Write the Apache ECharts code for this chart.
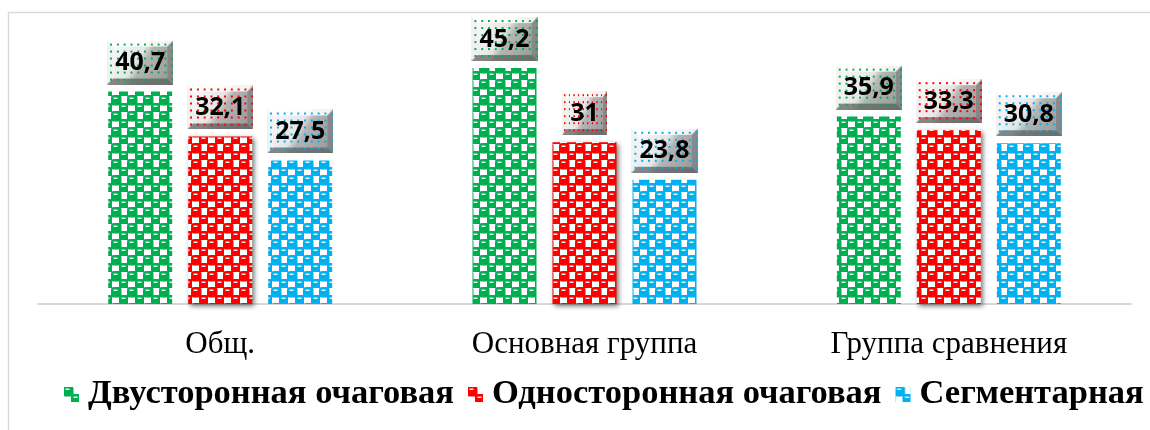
<!DOCTYPE html>
<html>
<head>
<meta charset="utf-8">
<script src="https://cdn.jsdelivr.net/npm/echarts@6/dist/echarts.min.js"></script>
<style>
html, body { margin: 0; padding: 0; background: #fff; }
#chart { width: 1150px; height: 430px; }
</style>
</head>
<body>
<div id="chart"></div>
<script>
var categories = ['Общ.', 'Основная группа', 'Группа сравнения'];
var seriesNames = ['Двусторонная очаговая', 'Односторонная очаговая', 'Сегментарная'];
var bilateral = [40.7, 45.2, 35.9];
var unilateral = [32.1, 31, 33.3];
var segmental = [27.5, 23.8, 30.8];
var colors = ['#00b050', '#ff0000', '#00b0f0'];

// текстура столбцов: шахматка из скруглённых клеток
function checkerTile(color) {
    var c = document.createElement('canvas');
    c.width = 16; c.height = 16;
    var g = c.getContext('2d');
    g.fillStyle = '#fff';
    g.fillRect(0, 0, 16, 16);
    function blob(x, y) {
        var r = 3, s = 10.5;
        g.fillStyle = color;
        g.beginPath();
        g.moveTo(x + r, y);
        g.lineTo(x + s - r, y);
        g.quadraticCurveTo(x + s, y, x + s, y + r);
        g.lineTo(x + s, y + s - r);
        g.quadraticCurveTo(x + s, y + s, x + s - r, y + s);
        g.lineTo(x + r, y + s);
        g.quadraticCurveTo(x, y + s, x, y + s - r);
        g.lineTo(x, y + r);
        g.quadraticCurveTo(x, y, x + r, y);
        g.fill();
        g.fillStyle = 'rgba(255,255,255,0.9)';
        g.fillRect(x + 2.5, y + 2.5, 4, 1.5);
    }
    [[-1, -1], [7, 7], [15, -1], [-1, 15], [15, 15], [-9, -9]].forEach(function (p) {
        blob(p[0], p[1]);
    });
    return c;
}

// фон подписи: серая "фаска" с точками цвета серии
function labelBox(color) {
    var w = 68, h = 44, b = 6;
    var c = document.createElement('canvas');
    c.width = w; c.height = h;
    var g = c.getContext('2d');
    var grd = g.createLinearGradient(0, 0, w, h);
    grd.addColorStop(0, '#ffffff');
    grd.addColorStop(0.45, '#e6e6e6');
    grd.addColorStop(0.55, '#b4b4b4');
    grd.addColorStop(1, '#969696');
    g.fillStyle = grd;
    g.fillRect(0, 0, w, h);
    function quad(pts, fill) {
        g.fillStyle = fill;
        g.beginPath();
        g.moveTo(pts[0][0], pts[0][1]);
        for (var i = 1; i < pts.length; i++) g.lineTo(pts[i][0], pts[i][1]);
        g.closePath();
        g.fill();
    }
    quad([[0, 0], [w, 0], [w - b, b], [b, b]], 'rgba(255,255,255,0.85)');
    quad([[0, 0], [b, b], [b, h - b], [0, h]], 'rgba(240,240,240,0.8)');
    quad([[w, 0], [w, h], [w - b, h - b], [w - b, b]], 'rgba(120,120,120,0.6)');
    quad([[0, h], [b, h - b], [w - b, h - b], [w, h]], 'rgba(90,90,90,0.7)');
    g.fillStyle = color;
    for (var y = 3; y < h; y += 7) {
        for (var x = 3; x < w; x += 7) {
            g.fillRect(x, y, 2, 2);
        }
    }
    return c;
}

function makeSeries(name, data, color, shadow) {
    var itemStyle = { color: { image: checkerTile(color), repeat: 'repeat' } };
    if (shadow) {
        itemStyle.shadowColor = 'rgba(0,0,0,0.55)';
        itemStyle.shadowBlur = 5;
        itemStyle.shadowOffsetX = 2;
        itemStyle.shadowOffsetY = 2;
    }
    return {
        name: name,
        type: 'bar',
        data: data,
        barWidth: 64,
        barGap: '25%',
        itemStyle: itemStyle,
        label: {
            show: true,
            position: 'top',
            distance: 7,
            formatter: function (p) { return String(p.value).replace('.', ','); },
            color: '#000',
            fontFamily: 'Open Sans',
            fontWeight: 'bold',
            fontSize: 25,
            lineHeight: 29,
            padding: [8, 8, 7, 8],
            backgroundColor: { image: labelBox(color) }
        }
    };
}

var myChart = echarts.init(document.getElementById('chart'));
var option = {
    animation: false,
    graphic: [{
        type: 'rect',
        shape: { x: 8.5, y: 12.5, width: 1200, height: 500 },
        style: { fill: 'none', stroke: '#d9d9d9', lineWidth: 1.5 },
        silent: true,
        z: -1
    }],
    legend: {
        top: 372,
        left: 59,
        width: 1120,
        icon: 'rect',
        itemWidth: 15,
        itemHeight: 15,
        itemGap: 14,
        textStyle: {
            fontFamily: 'Liberation Serif',
            fontWeight: 'bold',
            fontSize: 34.5,
            color: '#000',
            padding: [0, 0, 0, 4]
        },
        data: seriesNames
    },
    grid: {
        left: 38,
        right: 19,
        top: 43,
        bottom: 126
    },
    xAxis: {
        type: 'category',
        data: categories,
        axisTick: { show: false },
        axisLine: { lineStyle: { color: '#d9d9d9', width: 2 } },
        axisLabel: {
            margin: 25,
            fontFamily: 'Liberation Serif',
            fontSize: 31,
            color: '#000'
        }
    },
    yAxis: {
        type: 'value',
        min: 0,
        max: 50,
        show: false
    },
    series: [
        makeSeries(seriesNames[0], bilateral, colors[0], false),
        makeSeries(seriesNames[1], unilateral, colors[1], true),
        makeSeries(seriesNames[2], segmental, colors[2], false)
    ]
};
myChart.setOption(option);
</script>
</body>
</html>
